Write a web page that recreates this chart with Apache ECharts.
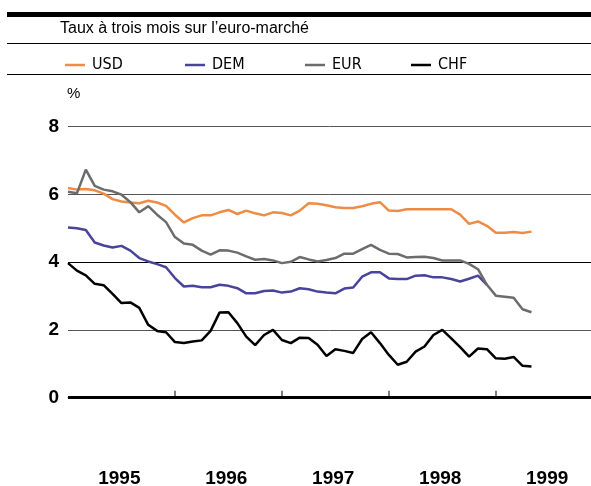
<!DOCTYPE html>
<html><head><meta charset="utf-8">
<script src="https://cdn.jsdelivr.net/npm/echarts@6/dist/echarts.min.js"></script>
<style>html,body{margin:0;padding:0;background:#fff}#c{width:591px;height:486px}</style>
</head><body><div id="c"></div>
<script>
// Monthly data, January 1995 to May 1999 (3-month euro-market rates, %)
const firstYear = 1995;
const monthsPerYear = 12;
const seriesNames = ['USD', 'DEM', 'EUR', 'CHF'];
const usd = [6.19,6.14,6.16,6.12,6.02,5.86,5.79,5.76,5.74,5.81,5.76,5.66,5.40,5.17,5.30,5.38,5.38,5.47,5.54,5.42,5.52,5.44,5.38,5.47,5.45,5.38,5.52,5.74,5.72,5.68,5.62,5.60,5.60,5.65,5.72,5.77,5.52,5.51,5.56,5.56,5.56,5.56,5.56,5.56,5.40,5.13,5.20,5.07,4.87,4.87,4.89,4.86,4.90];
const dem = [5.02,5.00,4.95,4.58,4.49,4.43,4.48,4.34,4.12,4.02,3.94,3.85,3.53,3.28,3.30,3.26,3.26,3.33,3.30,3.23,3.08,3.08,3.15,3.16,3.10,3.13,3.23,3.20,3.13,3.10,3.08,3.22,3.25,3.57,3.70,3.70,3.52,3.50,3.50,3.60,3.61,3.55,3.55,3.50,3.43,3.51,3.60,3.33];
const eur = [6.08,6.03,6.73,6.25,6.14,6.09,5.99,5.77,5.47,5.65,5.40,5.18,4.74,4.55,4.51,4.34,4.22,4.35,4.34,4.28,4.17,4.07,4.09,4.05,3.97,4.01,4.15,4.08,4.02,4.06,4.12,4.25,4.25,4.38,4.51,4.36,4.25,4.24,4.14,4.15,4.16,4.12,4.05,4.05,4.05,3.95,3.79,3.33,3.01,2.98,2.95,2.61,2.52];
const chf = [3.97,3.75,3.61,3.36,3.32,3.06,2.79,2.81,2.65,2.15,1.97,1.93,1.64,1.61,1.66,1.69,1.97,2.51,2.52,2.20,1.80,1.55,1.85,2.00,1.70,1.61,1.77,1.76,1.56,1.23,1.43,1.38,1.32,1.73,1.93,1.61,1.26,0.97,1.06,1.36,1.51,1.85,2.00,1.75,1.49,1.21,1.45,1.43,1.16,1.15,1.20,0.94,0.92];
const yearTicks = [1996, 1997, 1998, 1999];
const yearLabels = [1995, 1996, 1997, 1998, 1999];
const subtitle = 'Taux à trois mois sur l\u2019euro-marché';
const unitLabel = '%';

const colors = {USD:'#EE8B45', DEM:'#48449A', EUR:'#6C6C6C', CHF:'#000000'};
const values = {USD:usd, DEM:dem, EUR:eur, CHF:chf};
const toPoints = arr => arr.map((v, i) => [firstYear + i / monthsPerYear, v]);

const chart = echarts.init(document.getElementById('c'), null, {renderer:'canvas'});
const numFont = 'Liberation Sans, Arial, sans-serif';
const narrow = 'Liberation Sans Narrow, DejaVu Sans Condensed, Liberation Sans, sans-serif';
const legendLeft = {USD:60, DEM:180, EUR:300, CHF:406};

chart.setOption({
  animation:false,
  backgroundColor:'#fff',
  grid:{left:68, right:0, top:126.6, bottom:20.6, containLabel:false, outerBoundsMode:'none'},
  xAxis:{
    type:'value', min:1995, max:1999.89,
    axisLine:{show:true, lineStyle:{color:'#555', width:1}},
    axisTick:{show:true, inside:true, length:7, customValues:yearTicks, lineStyle:{color:'#555', width:1.5}},
    axisLabel:{customValues:yearLabels.map(y => y + 0.48), formatter:v => String(Math.floor(v)),
      fontSize:19, fontWeight:'bold', color:'#000', fontFamily:numFont, margin:4},
    splitLine:{show:false}
  },
  yAxis:{
    type:'value', min:-2, max:8, interval:2,
    axisLine:{show:false}, axisTick:{show:false},
    axisLabel:{formatter:v => (v < 0 ? '' : String(v)), fontSize:19, fontWeight:'bold', color:'#000', fontFamily:numFont, margin:9},
    splitLine:{show:true, lineStyle:{color:['rgba(0,0,0,0)','#000','#555','#000','#555','#555'], width:1}}
  },
  legend: seriesNames.map(n => ({
    data:[n], left:legendLeft[n], top:52, icon:'rect', itemWidth:20, itemHeight:2.5,
    selectedMode:false,
    textStyle:{fontSize:16, fontFamily:narrow, color:'#000', padding:[0,0,0,2]}
  })),
  series: seriesNames.map((n, k) => ({
    name:n, type:'line', data:toPoints(values[n]), showSymbol:false, symbol:'none',
    color:colors[n], lineStyle:{color:colors[n], width:2.5}, z:2 + k,
    markLine: n === 'CHF' ? {silent:true, symbol:'none', label:{show:false},
      lineStyle:{color:'#000', width:3, type:'solid'}, data:[{yAxis:0}]} : undefined
  })),
  graphic:[
    {type:'rect', shape:{x:7, y:12, width:584, height:5}, style:{fill:'#000'}},
    {type:'rect', shape:{x:7, y:43, width:584, height:1}, style:{fill:'#000'}},
    {type:'rect', shape:{x:7, y:74, width:584, height:1}, style:{fill:'#000'}},
    {type:'text', left:60, top:21, style:{text:subtitle, fontSize:16, fontFamily:'Liberation Sans, Arial, sans-serif', fill:'#000'}},
    {type:'text', left:67, top:86, style:{text:unitLabel, fontSize:15, fontFamily:'Liberation Sans, Arial, sans-serif', fill:'#000'}}
  ]
});
</script></body></html>
